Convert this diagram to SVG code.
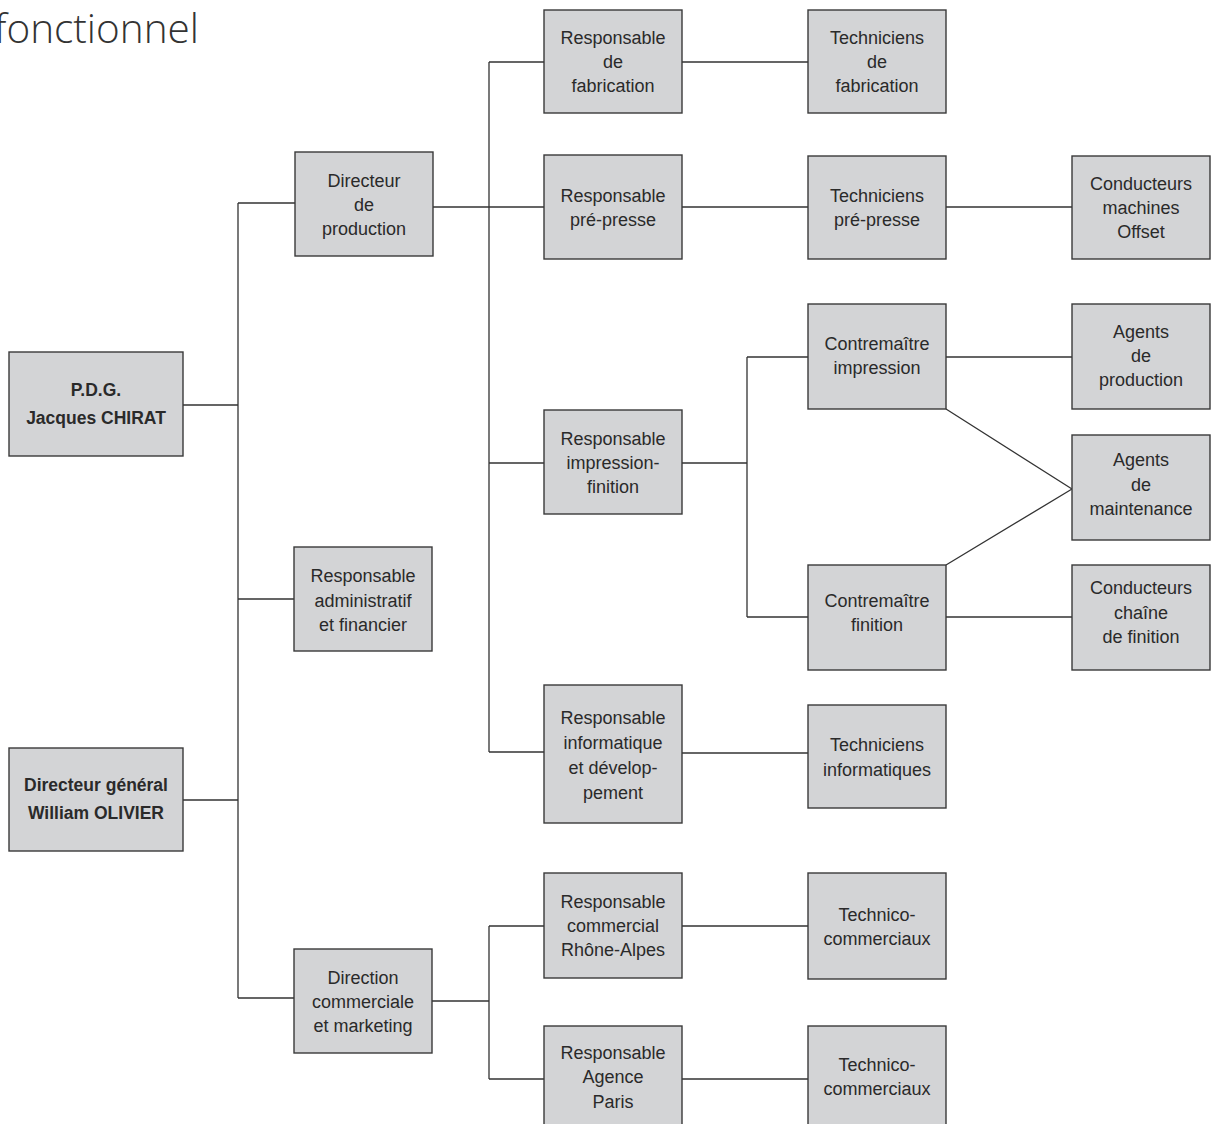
<svg xmlns="http://www.w3.org/2000/svg" width="1211" height="1124" viewBox="0 0 1211 1124">
<style>
.box{fill:#d3d4d6;stroke:#3a3a3a;stroke-width:1.4}
.t{font-family:"Liberation Sans",Arial,sans-serif;font-size:18px;fill:#2a2a2a;text-anchor:middle}
.b{font-weight:bold;font-size:17.5px}
.c{fill:none;stroke:#333;stroke-width:1.3}
.title{font-family:"Open Sans","Liberation Sans",Arial,sans-serif;font-weight:300;font-size:40.5px;fill:#333;text-anchor:end}
</style>
<rect width="1211" height="1124" fill="#fff"/>
<text class="title" x="199" y="43">fonctionnel</text>
<g id="connectors" class="c">
<path d="M183,405 H238 M183,800 H238 M238,203 V998 M238,203 H295 M238,599 H294 M238,998 H294"/>
<path d="M433,207 H544 M489,62 V752 M489,62 H544 M489,463 H544 M489,752 H544"/>
<path d="M682,62 H808 M682,207 H808 M946,207 H1072"/>
<path d="M682,463 H747 M747,357 V617 M747,357 H808 M747,617 H808 M946,357 H1072 M946,617 H1072"/>
<path d="M946,409 L1072,489 M946,565 L1072,489"/>
<path d="M682,753 H808"/>
<path d="M432,1001 H489 M489,926 V1079 M489,926 H544 M489,1079 H544 M682,926 H808 M682,1079 H808"/>
</g>
<g id="n-pdg"><rect class="box" x="9" y="352" width="174" height="104"/><text class="t b" x="96" y="396">P.D.G.</text><text class="t b" x="96" y="424">Jacques CHIRAT</text></g>
<g id="n-dg"><rect class="box" x="9" y="748" width="174" height="103"/><text class="t b" x="96" y="791">Directeur général</text><text class="t b" x="96" y="819">William OLIVIER</text></g>
<g id="n-dirprod"><rect class="box" x="295" y="152" width="138" height="104"/><text class="t" x="364" y="187">Directeur</text><text class="t" x="364" y="211">de</text><text class="t" x="364" y="235">production</text></g>
<g id="n-admin"><rect class="box" x="294" y="547" width="138" height="104"/><text class="t" x="363" y="582">Responsable</text><text class="t" x="363" y="607">administratif</text><text class="t" x="363" y="631">et financier</text></g>
<g id="n-dircom"><rect class="box" x="294" y="949" width="138" height="104"/><text class="t" x="363" y="984">Direction</text><text class="t" x="363" y="1008">commerciale</text><text class="t" x="363" y="1032">et marketing</text></g>
<g id="n-respfab"><rect class="box" x="544" y="10" width="138" height="103"/><text class="t" x="613" y="44">Responsable</text><text class="t" x="613" y="68">de</text><text class="t" x="613" y="92">fabrication</text></g>
<g id="n-resppre"><rect class="box" x="544" y="155" width="138" height="104"/><text class="t" x="613" y="202">Responsable</text><text class="t" x="613" y="226">pré-presse</text></g>
<g id="n-respimp"><rect class="box" x="544" y="410" width="138" height="104"/><text class="t" x="613" y="445">Responsable</text><text class="t" x="613" y="469">impression-</text><text class="t" x="613" y="493">finition</text></g>
<g id="n-respinfo"><rect class="box" x="544" y="685" width="138" height="138"/><text class="t" x="613" y="724">Responsable</text><text class="t" x="613" y="749">informatique</text><text class="t" x="613" y="774">et dévelop-</text><text class="t" x="613" y="799">pement</text></g>
<g id="n-respra"><rect class="box" x="544" y="873" width="138" height="105"/><text class="t" x="613" y="908">Responsable</text><text class="t" x="613" y="932">commercial</text><text class="t" x="613" y="956">Rhône-Alpes</text></g>
<g id="n-resppar"><rect class="box" x="544" y="1026" width="138" height="110"/><text class="t" x="613" y="1059">Responsable</text><text class="t" x="613" y="1083">Agence</text><text class="t" x="613" y="1108">Paris</text></g>
<g id="n-techfab"><rect class="box" x="808" y="10" width="138" height="103"/><text class="t" x="877" y="44">Techniciens</text><text class="t" x="877" y="68">de</text><text class="t" x="877" y="92">fabrication</text></g>
<g id="n-techpre"><rect class="box" x="808" y="156" width="138" height="103"/><text class="t" x="877" y="202">Techniciens</text><text class="t" x="877" y="226">pré-presse</text></g>
<g id="n-condoff"><rect class="box" x="1072" y="156" width="138" height="103"/><text class="t" x="1141" y="190">Conducteurs</text><text class="t" x="1141" y="214">machines</text><text class="t" x="1141" y="238">Offset</text></g>
<g id="n-contimp"><rect class="box" x="808" y="304" width="138" height="105"/><text class="t" x="877" y="350">Contremaître</text><text class="t" x="877" y="374">impression</text></g>
<g id="n-agprod"><rect class="box" x="1072" y="304" width="138" height="105"/><text class="t" x="1141" y="338">Agents</text><text class="t" x="1141" y="362">de</text><text class="t" x="1141" y="386">production</text></g>
<g id="n-agmaint"><rect class="box" x="1072" y="435" width="138" height="105"/><text class="t" x="1141" y="466">Agents</text><text class="t" x="1141" y="491">de</text><text class="t" x="1141" y="515">maintenance</text></g>
<g id="n-contfin"><rect class="box" x="808" y="565" width="138" height="105"/><text class="t" x="877" y="607">Contremaître</text><text class="t" x="877" y="631">finition</text></g>
<g id="n-condch"><rect class="box" x="1072" y="565" width="138" height="105"/><text class="t" x="1141" y="594">Conducteurs</text><text class="t" x="1141" y="619">chaîne</text><text class="t" x="1141" y="643">de finition</text></g>
<g id="n-techinfo"><rect class="box" x="808" y="705" width="138" height="103"/><text class="t" x="877" y="751">Techniciens</text><text class="t" x="877" y="776">informatiques</text></g>
<g id="n-tc1"><rect class="box" x="808" y="873" width="138" height="106"/><text class="t" x="877" y="921">Technico-</text><text class="t" x="877" y="945">commerciaux</text></g>
<g id="n-tc2"><rect class="box" x="808" y="1026" width="138" height="110"/><text class="t" x="877" y="1071">Technico-</text><text class="t" x="877" y="1095">commerciaux</text></g>
</svg>
